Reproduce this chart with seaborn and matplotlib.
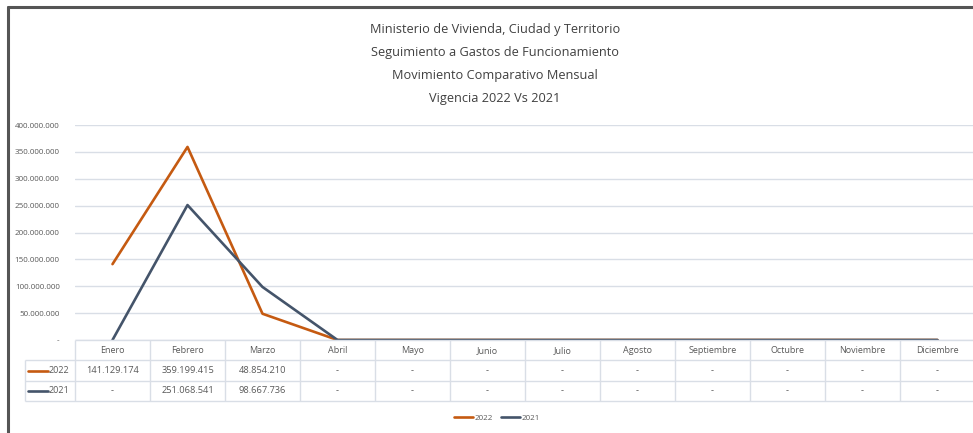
import matplotlib
matplotlib.use("Agg")
import matplotlib.pyplot as plt
import seaborn as sns
import pandas as pd
from matplotlib.ticker import FuncFormatter
from matplotlib.lines import Line2D

# datos
meses = ["Enero", "Febrero", "Marzo", "Abril", "Mayo", "Junio", "Julio",
         "Agosto", "Septiembre", "Octubre", "Noviembre", "Diciembre"]
valores_2022 = [141129174, 359199415, 48854210, 0, 0, 0, 0, 0, 0, 0, 0, 0]
valores_2021 = [0, 251068541, 98667736, 0, 0, 0, 0, 0, 0, 0, 0, 0]
series = ["2022", "2021"]
colores = {"2022": "#C55A11", "2021": "#44546A"}
titulo = ["Ministerio de Vivienda, Ciudad y Territorio",
          "Seguimiento a Gastos de Funcionamiento",
          "Movimiento Comparativo Mensual",
          "Vigencia 2022 Vs 2021"]

df = pd.DataFrame({
    "idx": list(range(12)) * 2,
    "mes": meses * 2,
    "valor": valores_2022 + valores_2021,
    "serie": ["2022"] * 12 + ["2021"] * 12,
})

sns.set_theme(style="white")
plt.rcParams["font.family"] = ["Open Sans", "DejaVu Sans"]

W, H = 973, 433
fig = plt.figure(figsize=(W / 100, H / 100), dpi=100)

def fx(px):
    return px / W

def fy(py):
    return (H - py) / H

texto_gris = "#595959"
grid_color = "#D9DEE6"

# borde del area del grafico (recortado en la captura)
fig.add_artist(Line2D([fx(7.5), fx(7.5)], [fy(7), 0], color="#555555", lw=2.2))
fig.add_artist(Line2D([fx(7.5), 1], [fy(7), fy(7)], color="#555555", lw=2.2))

# titulo
for i, linea in enumerate(titulo):
    fig.text(fx(495), fy(30 + i * 22.7), linea, ha="center", va="center",
             fontsize=9.2, color="#404040")

# eje principal
ax = fig.add_axes([fx(75), fy(340), fx(900), (340 - 125) / H])
sns.lineplot(data=df, x="idx", y="valor", hue="serie", hue_order=series,
             palette=colores, linewidth=1.9, ax=ax, legend=True)
ax.set_xlim(-0.5, 11.5)
ax.set_ylim(0, 400000000)
ax.set_yticks(range(0, 400000001, 50000000))
ax.yaxis.set_major_formatter(FuncFormatter(
    lambda v, p: "-" if v == 0 else f"{int(v):,}".replace(",", ".")))
ax.tick_params(axis="y", labelsize=5.8, colors=texto_gris, pad=11, length=0)
ax.set_xticks([])
ax.set_xlabel("")
ax.set_ylabel("")
ax.yaxis.grid(True, color=grid_color, lw=1)
ax.set_axisbelow(True)
for s in ax.spines.values():
    s.set_visible(False)

sns.move_legend(ax, "center", bbox_to_anchor=(fx(497), fy(418)),
                bbox_transform=fig.transFigure, ncol=2, frameon=False,
                title=None, fontsize=5.8, handlelength=2.4, handletextpad=0.2,
                columnspacing=1.0)
for t in ax.get_legend().get_texts():
    t.set_color(texto_gris)

# tabla de datos
tx = fig.add_axes([fx(75), fy(401), fx(900), 61 / H])
tx.set_xlim(-0.5, 11.5)
tx.set_ylim(3, 0)
tx.axis("off")
linea_tabla = dict(color=grid_color, lw=1, clip_on=False)
x_izq = -0.5 - 50 / 75
tx.hlines(0, -0.5, 11.5, **linea_tabla)
tx.hlines([1, 2, 3], x_izq, 11.5, **linea_tabla)
tx.vlines([i - 0.5 for i in range(13)], 0, 3, **linea_tabla)
tx.vlines(x_izq, 1, 3, **linea_tabla)

def fmt(v):
    return "-" if v == 0 else f"{v:,}".replace(",", ".")

for i, m in enumerate(meses):
    tx.text(i, 0.5, m, ha="center", va="center", fontsize=6.5, color=texto_gris)
for fila, (nombre, vals) in enumerate(zip(series, [valores_2022, valores_2021]), start=1):
    tx.plot([x_izq + 0.04, -0.86], [fila + 0.5, fila + 0.5], color=colores[nombre],
            lw=1.9, clip_on=False)
    tx.text(-0.85, fila + 0.5, nombre, ha="left", va="center", fontsize=6.5,
            color=texto_gris)
    for i, v in enumerate(vals):
        tx.text(i, fila + 0.5, fmt(v), ha="center", va="center", fontsize=6.7,
                color=texto_gris)

fig.savefig("out.png", dpi=100, facecolor="white")
